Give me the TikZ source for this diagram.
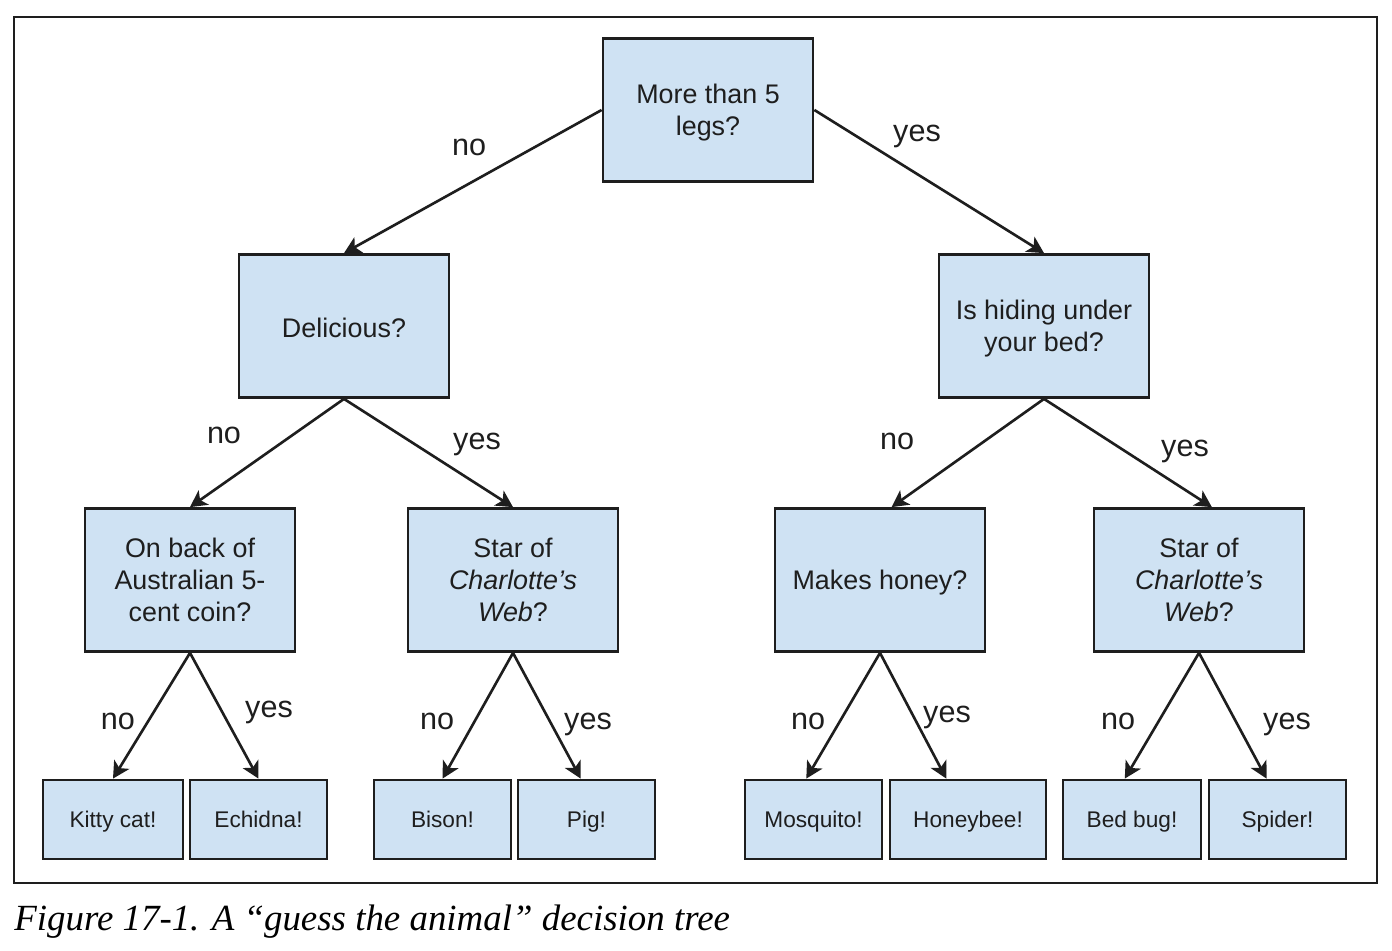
\documentclass[tikz,border=0pt]{standalone}
\usepackage{fontspec}
\setmainfont{Liberation Serif}
\newfontfamily\kastenfont{Liberation Sans}
\usetikzlibrary{arrows.meta}
\definecolor{kastenblau}{HTML}{CFE2F3}
\definecolor{linie}{HTML}{1E1E1E}

\begin{document}
\begin{tikzpicture}[x=0.02cm, y=-0.02cm,
	frage/.style={draw=linie, line width=1.6pt, fill=kastenblau, minimum width=4.2cm, minimum height=2.86cm, align=center, inner sep=0pt, text=linie, font=\kastenfont\fontsize{15.3}{18.2}\selectfont},
	tier/.style={draw=linie, line width=1.6pt, fill=kastenblau, minimum width=2.74cm, minimum height=1.58cm, inner sep=0pt, text height=10.5pt, text depth=1pt, text=linie, font=\kastenfont\fontsize{12.9}{15}\selectfont},
	pfeil/.style={draw=linie, line width=1.5pt, -{Stealth[length=9.5pt, width=10pt, inset=2.5pt]}},
	antwort/.style={anchor=base, inner sep=0pt, text=linie, font=\kastenfont\fontsize{17.4}{20}\selectfont}]
	\useasboundingbox (0,0) rectangle (1392,950);
	\draw[line width=0.85pt, linie] (14,17) rectangle (1377,883);%Rahmen
	
	%Fragen
	\node[frage] (beine) at (708,110) {\rule{0pt}{14pt}More than 5\\legs?};
	\node[frage] (lecker) at (344,326) {\rule{0pt}{13pt}Delicious?};
	\node[frage] (bett) at (1044,326) {\rule{0pt}{14pt}Is hiding under\\your bed?};
	\node[frage] (muenze) at (190,580) {On back of\\Australian 5-\\cent coin?};
	\node[frage] (starlinks) at (513,580) {Star of\\\textit{Charlotte’s}\\\textit{Web}?};
	\node[frage] (honig) at (880,580) {\rule{0pt}{14pt}Makes honey?};
	\node[frage] (starrechts) at (1199,580) {Star of\\\textit{Charlotte’s}\\\textit{Web}?};
	
	%Tiere
	\node[tier, minimum width=2.8cm] (katze) at (113,819.5) {Kitty cat!};
	\node[tier] (igel) at (258.5,819.5) {Echidna!};
	\node[tier] (bison) at (442.5,819.5) {Bison!};
	\node[tier] (schwein) at (586.5,819.5) {Pig!};
	\node[tier] (muecke) at (813.5,819.5) {Mosquito!};
	\node[tier, minimum width=3.12cm] (biene) at (968,819.5) {Honeybee!};
	\node[tier, minimum width=2.76cm] (wanze) at (1132,819.5) {Bed bug!};
	\node[tier] (spinne) at (1277.5,819.5) {Spider!};
	
	%Pfeile
	\draw[pfeil] (beine.west) -- (lecker.north);
	\draw[pfeil] (beine.east) -- (bett.north);
	\draw[pfeil] (lecker.south) -- (muenze.north);
	\draw[pfeil] (lecker.south) -- (starlinks.north);
	\draw[pfeil] (bett.south) -- (honig.81);
	\draw[pfeil] (bett.south) -- (starrechts.80);
	\draw[pfeil] (muenze.south) -- (katze.north);
	\draw[pfeil] (muenze.south) -- (igel.north);
	\draw[pfeil] (starlinks.south) -- (bison.north);
	\draw[pfeil] (starlinks.south) -- (schwein.98);
	\draw[pfeil] (honig.south) -- (muecke.100);
	\draw[pfeil] (honig.south) -- (biene.118);
	\draw[pfeil] (starrechts.south) -- (wanze.100);
	\draw[pfeil] (starrechts.south) -- (spinne.105);
	
	%Antworten
	\node[antwort] (nein1) at (469,155) {no};
	\node[antwort] (ja1) at (917,141) {yes};
	\node[antwort] (nein2) at (224,443) {no};
	\node[antwort] (ja2) at (477,449) {yes};
	\node[antwort] (nein3) at (897,449) {no};
	\node[antwort] (ja3) at (1185,456) {yes};
	\node[antwort] (nein4) at (118,729) {no};
	\node[antwort] (ja4) at (269,717) {yes};
	\node[antwort] (nein5) at (437,729) {no};
	\node[antwort] (ja5) at (588,729) {yes};
	\node[antwort] (nein6) at (808,729) {no};
	\node[antwort] (ja6) at (947,722) {yes};
	\node[antwort] (nein7) at (1118,729) {no};
	\node[antwort] (ja7) at (1287,729) {yes};
	
	\node[anchor=base west, inner sep=0pt, font=\itshape\fontsize{21}{24}\selectfont] (unterschrift) at (14,930) {Figure 17-1. A “guess the animal” decision tree};
\end{tikzpicture}
\end{document}
